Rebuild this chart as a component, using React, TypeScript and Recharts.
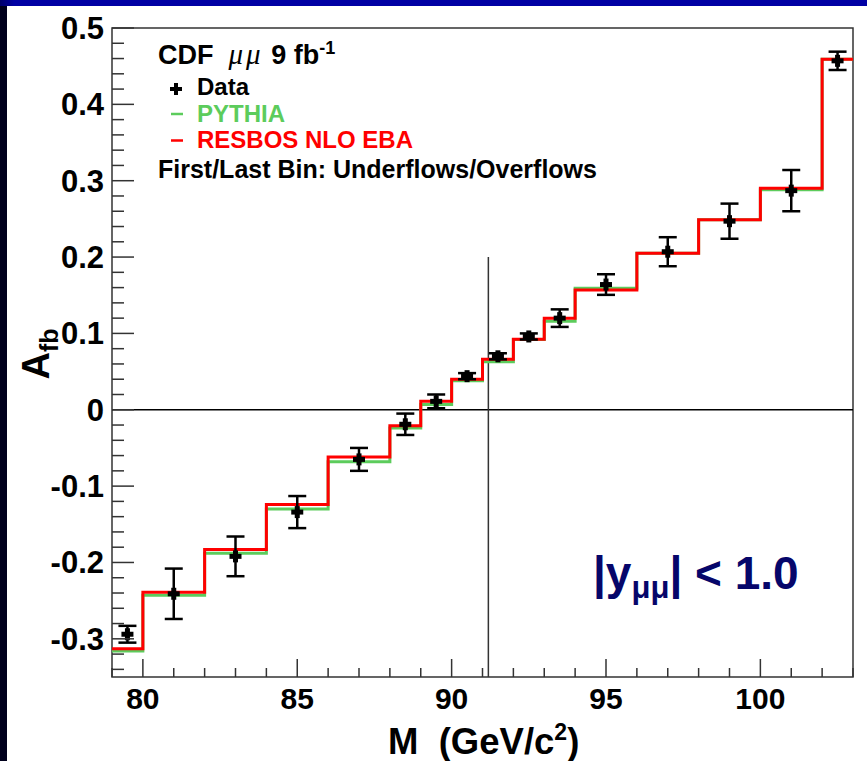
import React from 'react';
import {
  ComposedChart,
  Line,
  Scatter,
  ErrorBar,
  XAxis,
  YAxis,
  ReferenceLine,
  ReferenceArea,
} from 'recharts';

// Bin edges in dimuon mass (GeV/c^2); first and last bins hold under/overflows
const binEdges = [79, 80, 82, 84, 86, 88, 89, 90, 91, 92, 93, 94, 96, 98, 100, 102, 103];

// Predicted A_fb per bin
const resbosValues = [
  -0.313, -0.239, -0.183, -0.124, -0.062, -0.021, 0.011, 0.040, 0.066, 0.0925, 0.120, 0.157,
  0.205, 0.249, 0.290, 0.459,
];
const pythiaValues = [
  -0.316, -0.243, -0.188, -0.130, -0.068, -0.024, 0.007, 0.038, 0.063, 0.092, 0.116, 0.159,
  0.205, 0.249, 0.288, 0.459,
];

// Measured A_fb with statistical uncertainties
const dataMass = [79.5, 81, 83, 85, 87, 88.5, 89.5, 90.5, 91.5, 92.5, 93.5, 95, 97, 99, 101, 102.5];
const dataAfb = [
  -0.294, -0.241, -0.192, -0.134, -0.065, -0.019, 0.011, 0.044, 0.070, 0.096, 0.120, 0.164,
  0.207, 0.247, 0.287, 0.457,
];
const dataErr = [
  0.011, 0.033, 0.026, 0.021, 0.015, 0.014, 0.009, 0.004, 0.004, 0.004, 0.0115, 0.0135, 0.019,
  0.023, 0.027, 0.012,
];

// Axis ticks
const xMajorTicks = [80, 85, 90, 95, 100];
const xTickLabels = ['80', '85', '90', '95', '100'];
const yMajorTicks = [-0.3, -0.2, -0.1, 0, 0.1, 0.2, 0.3, 0.4, 0.5];
const yTickLabels = ['-0.3', '-0.2', '-0.1', '0', '0.1', '0.2', '0.3', '0.4', '0.5'];

const X_DOMAIN: [number, number] = [79, 103];
const Y_DOMAIN: [number, number] = [-0.35, 0.5];
const Z_MASS = 91.19;

const xAllTicks: number[] = [];
for (let m = 79; m <= 103; m++) xAllTicks.push(m);
const yAllTicks: number[] = [];
for (let k = -17; k <= 25; k++) yAllTicks.push(Math.round(k * 2) / 100);

const stepRows = (vals: number[]) =>
  binEdges.map((x, i) => ({ x, y: i < vals.length ? vals[i] : vals[vals.length - 1] }));

const resbosSteps = stepRows(resbosValues);
const pythiaSteps = stepRows(pythiaValues);
const dataPoints = dataMass.map((x, i) => ({ x, y: dataAfb[i], err: dataErr[i] }));

const FONT = '"Liberation Sans", Arial, Helvetica, sans-serif';
const FRAME = '#333';
const GREEN = '#5ccc5c';
const RED = '#ff0000';
const NAVY = '#06066a';

const near = (a: number, b: number) => Math.abs(a - b) < 1e-6;

const XTick = (props: any) => {
  const { x, y, payload } = props;
  const v = payload.value as number;
  const idx = xMajorTicks.findIndex((t) => near(t, v));
  const len = idx >= 0 ? 18 : 9;
  return (
    <g>
      <line x1={x} y1={y} x2={x} y2={y - len} stroke={FRAME} strokeWidth={1.5} />
      {idx >= 0 && (
        <text x={x} y={y + 32} textAnchor="middle" fontFamily={FONT} fontWeight="bold" fontSize={30} fill="#000">
          {xTickLabels[idx]}
        </text>
      )}
    </g>
  );
};

const YTick = (props: any) => {
  const { x, y, payload } = props;
  const v = payload.value as number;
  const idx = yMajorTicks.findIndex((t) => near(t, v));
  const len = idx >= 0 ? 22 : 12;
  return (
    <g>
      <line x1={x} y1={y} x2={x + len} y2={y} stroke={FRAME} strokeWidth={1.5} />
      {idx >= 0 && (
        <text x={x - 8} y={y + 11} textAnchor="end" fontFamily={FONT} fontWeight="bold" fontSize={31} fill="#000">
          {yTickLabels[idx]}
        </text>
      )}
    </g>
  );
};

const DataMarker = (props: any) => {
  const { cx, cy } = props;
  if (cx == null || cy == null) return null;
  return (
    <g>
      <rect x={cx - 6} y={cy - 2.5} width={12} height={5} fill="#000" />
      <rect x={cx - 2.5} y={cy - 6} width={5} height={12} fill="#000" />
    </g>
  );
};

export default function App() {
  return (
    <div style={{ position: 'fixed', left: 0, top: 0, right: 0, bottom: 0, background: '#fff', overflow: 'hidden' }}>
      <div style={{ position: 'absolute', left: 0, top: 0, width: '100%', height: 6, background: 'linear-gradient(90deg, #00006a 0px, #0000a4 14px, #0000a4 100%)' }} />
      <div style={{ position: 'absolute', left: 0, top: 6, width: 7, bottom: 0, background: '#00001c' }} />

      <div style={{ position: 'absolute', left: 0, top: 0 }}>
        <ComposedChart width={867} height={761} margin={{ top: 28, right: 14, bottom: 24, left: 12 }}>
          <XAxis
            type="number"
            dataKey="x"
            domain={X_DOMAIN}
            ticks={xAllTicks}
            interval={0}
            allowDataOverflow
            axisLine={false}
            tickLine={false}
            tickSize={0}
            tickMargin={0}
            height={60}
            tick={<XTick />}
          />
          <YAxis
            type="number"
            domain={Y_DOMAIN}
            ticks={yAllTicks}
            interval={0}
            allowDataOverflow
            axisLine={false}
            tickLine={false}
            tickSize={0}
            tickMargin={0}
            width={100}
            tick={<YTick />}
          />
          <ReferenceArea
            x1={X_DOMAIN[0]}
            x2={X_DOMAIN[1]}
            y1={Y_DOMAIN[0]}
            y2={Y_DOMAIN[1]}
            fill="none"
            stroke={FRAME}
            strokeWidth={1.5}
            ifOverflow="visible"
          />
          <ReferenceLine y={0} stroke="#000" strokeWidth={1.5} />
          <ReferenceLine
            segment={[
              { x: Z_MASS, y: 0.2 },
              { x: Z_MASS, y: Y_DOMAIN[0] },
            ]}
            stroke={FRAME}
            strokeWidth={1.5}
          />
          <Line
            data={pythiaSteps}
            dataKey="y"
            type="stepAfter"
            stroke={GREEN}
            strokeWidth={3}
            dot={false}
            activeDot={false}
            isAnimationActive={false}
          />
          <Line
            data={resbosSteps}
            dataKey="y"
            type="stepAfter"
            stroke={RED}
            strokeWidth={3}
            dot={false}
            activeDot={false}
            isAnimationActive={false}
          />
          <Scatter data={dataPoints} dataKey="y" shape={<DataMarker />} isAnimationActive={false}>
            <ErrorBar dataKey="err" direction="y" width={9} stroke="#000" strokeWidth={2.5} />
          </Scatter>
        </ComposedChart>
      </div>

      <svg width={867} height={761} style={{ position: 'absolute', left: 0, top: 0, pointerEvents: 'none' }}>
        <g fontFamily={FONT} fontWeight="bold">
          <text x={158} y={64} fontSize={27} fill="#000">
            CDF{'\u00a0\u00a0'}
            <tspan fontFamily='"Liberation Serif", serif' fontStyle="italic" fontWeight="normal" fontSize={29} letterSpacing={3}>
              μμ
            </tspan>
            {'\u00a0'}9 fb
            <tspan dy={-10} fontSize={18}>
              -1
            </tspan>
          </text>

          <rect x={170} y={87} width={12} height={4} fill="#000" />
          <rect x={174} y={83} width={4} height={12} fill="#000" />
          <text x={197} y={95} fontSize={24} fill="#000">
            Data
          </text>

          <line x1={171} y1={114} x2={183} y2={114} stroke={GREEN} strokeWidth={2.5} />
          <text x={197} y={121.5} fontSize={24} fill={GREEN}>
            PYTHIA
          </text>

          <line x1={171} y1={140.5} x2={183} y2={140.5} stroke={RED} strokeWidth={2.5} />
          <text x={197} y={148} fontSize={24} fill={RED}>
            RESBOS NLO EBA
          </text>

          <text x={158} y={178} fontSize={25} fill="#000">
            First/Last Bin: Underflows/Overflows
          </text>

          <text x={593} y={589} fontSize={46} fill={NAVY}>
            |y
            <tspan dy={9} fontSize={31}>
              μμ
            </tspan>
            <tspan dy={-9}>| &lt; 1.0</tspan>
          </text>

          <text x={388} y={754} fontSize={36.5} fill="#000">
            M{'\u00a0\u00a0'}(GeV/c
            <tspan dy={-14} fontSize={23}>
              2
            </tspan>
            <tspan dy={14}>)</tspan>
          </text>

          <text transform="translate(49, 354) rotate(-90)" textAnchor="middle" fontSize={38} fill="#000">
            A
            <tspan dy={9} fontSize={25}>
              fb
            </tspan>
          </text>
        </g>
      </svg>
    </div>
  );
}
